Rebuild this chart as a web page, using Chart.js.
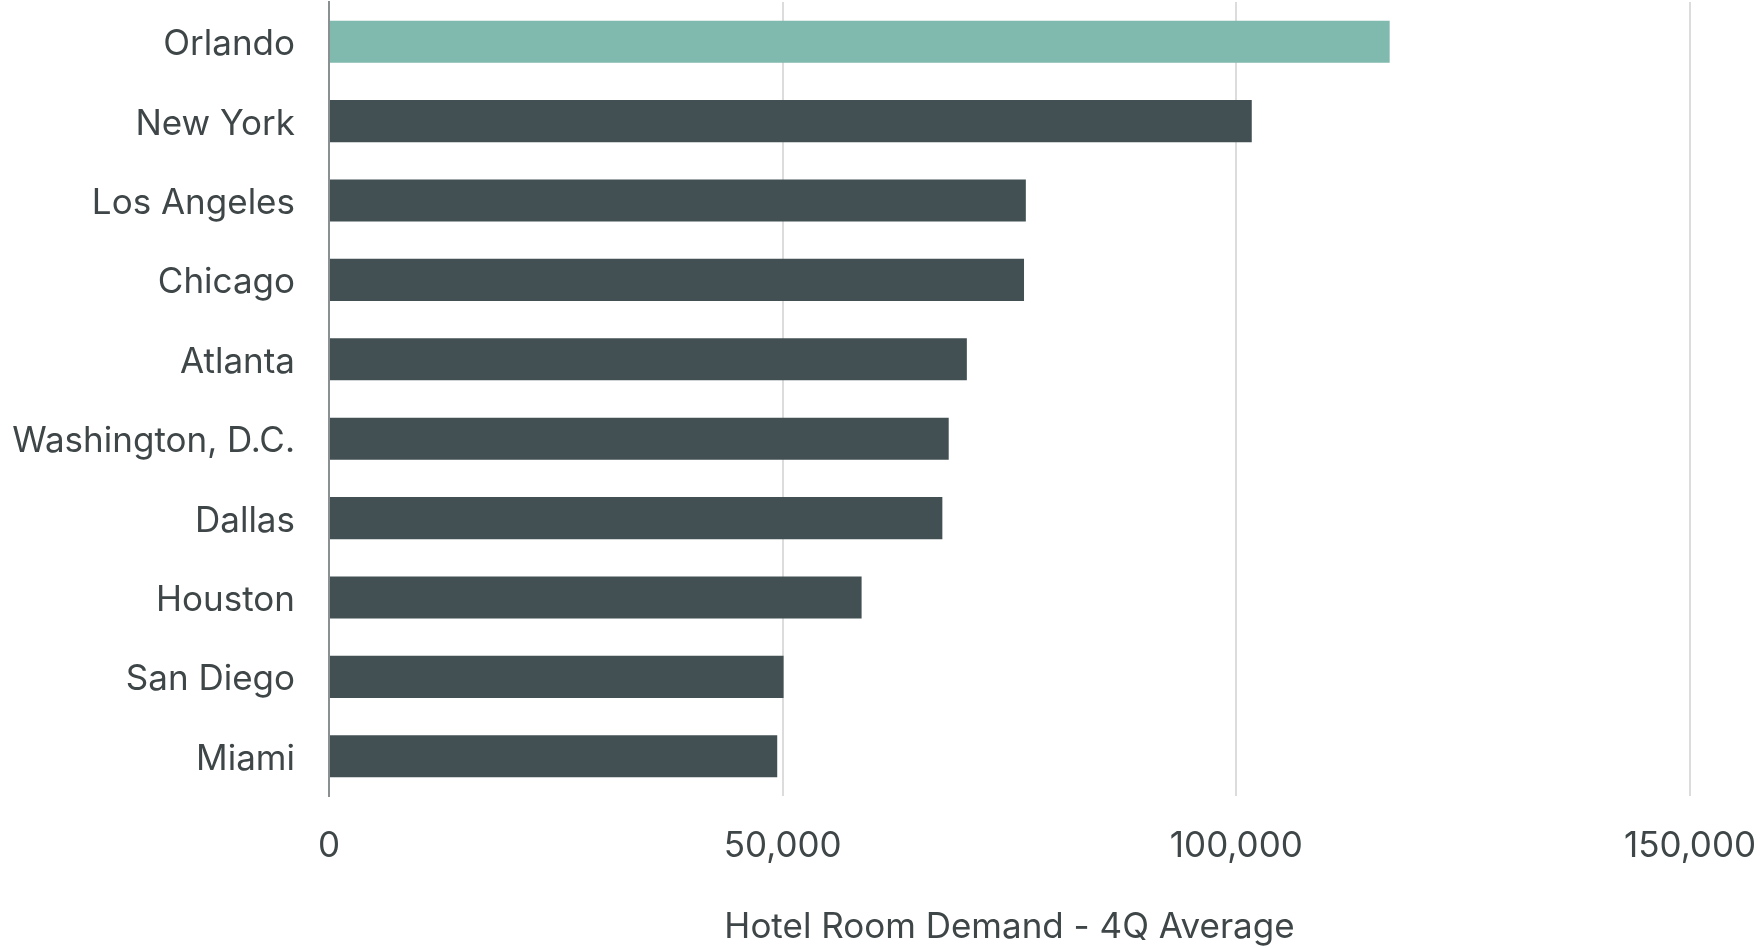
<!DOCTYPE html>
<html lang="en">
  <head>
    <meta charset="UTF-8" />
    <title>Hotel Room Demand</title>
    <script src="https://cdn.jsdelivr.net/npm/chart.js"></script>
    <style>
      body { margin: 0; background: #fff; }
      #wrap { width: 1760px; height: 948px; }
    </style>
  </head>
  <body>
    <div id="wrap">
      <canvas id="myChart" width="1760" height="948"></canvas>
    </div>
  </body>
  <script>
    // cities, top to bottom
    const cities = [
      "Orlando", "New York", "Los Angeles", "Chicago", "Atlanta",
      "Washington, D.C.", "Dallas", "Houston", "San Diego", "Miami",
    ];
    // hotel room demand, 4Q average
    const demand = [116900, 101700, 76800, 76600, 70300, 68300, 67600, 58700, 50100, 49400];
    const xTicks = [0, 50000, 100000, 150000];
    const axisTitle = "Hotel Room Demand - 4Q Average";

    const textColor = "#3f4648";
    const font = "Inter, Lato, sans-serif";

    const ctx = document.querySelector("#myChart");

    new Chart(ctx, {
      type: "bar",
      data: {
        labels: cities,
        datasets: [
          {
            data: demand,
            // Orlando highlighted
            backgroundColor: cities.map((c, i) => (i === 0 ? "#80b9ad" : "#435053")),
            barPercentage: 0.53,
            categoryPercentage: 1,
          },
        ],
      },
      options: {
        indexAxis: "y",
        responsive: false,
        animation: false,
        layout: { padding: { top: 2, right: 70, left: 6, bottom: 0 } },
        plugins: { legend: { display: false }, tooltip: { enabled: false } },
        scales: {
          x: {
            min: 0,
            max: 150000,
            afterBuildTicks: (axis) => {
              axis.ticks = xTicks.map((v) => ({ value: v }));
            },
            afterFit: (axis) => {
              // keep the plot edge fixed, labels may overhang
              axis.paddingLeft = 0;
              axis.paddingRight = 0;
            },
            ticks: {
              color: textColor,
              font: { family: font, size: 35 },
              padding: 29,
              maxRotation: 0,
              callback: (v) => v.toLocaleString("en-US"),
            },
            grid: {
              color: (c) => (c.index === 0 ? "rgba(0,0,0,0)" : "#dcdcdc"),
              lineWidth: 2,
              drawTicks: false,
            },
            border: { display: false },
            title: {
              display: true,
              text: axisTitle,
              color: textColor,
              font: { family: font, size: 35 },
              padding: { top: 10, bottom: 0 },
            },
          },
          y: {
            afterFit: (axis) => {
              axis.width = 323;
              axis.paddingTop = 0;
              axis.paddingBottom = 0;
            },
            ticks: {
              color: textColor,
              font: { family: font, size: 35 },
              padding: 26,
              labelOffset: 3,
            },
            grid: { display: false },
            border: { color: "#8a8f91", width: 2 },
          },
        },
      },
    });
  </script>
</html>
